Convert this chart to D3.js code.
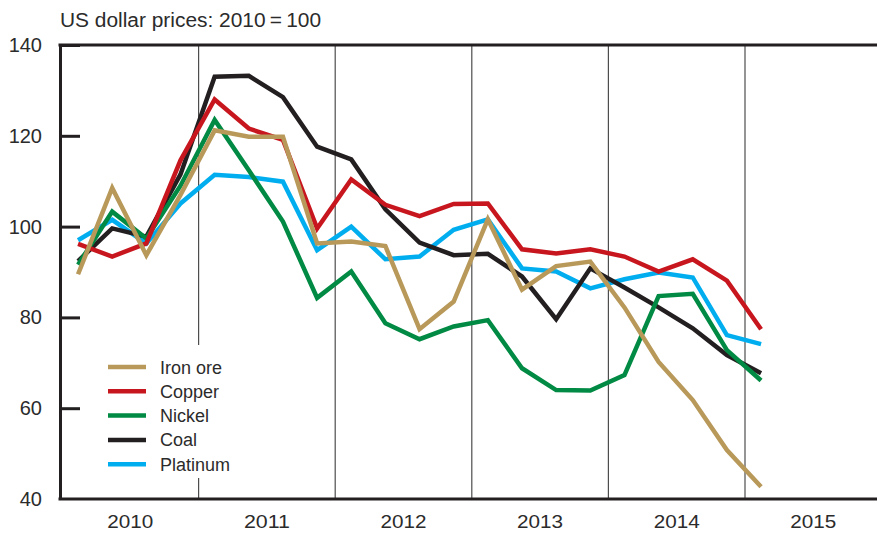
<!DOCTYPE html>
<html>
<head>
<meta charset="utf-8">
<script src="https://cdn.jsdelivr.net/npm/d3@7"></script>
<style>
  html, body { margin: 0; padding: 0; background: #fff; }
  svg { display: block; }
  text { font-family: "Liberation Sans", Arial, Helvetica, sans-serif; fill: #2b2b2b; }
</style>
</head>
<body>
<svg id="chart" width="877" height="533"></svg>
<script>
// ---- data (quarterly, 2010 Q1 .. 2015 Q1) ----
const years = [2010, 2011, 2012, 2013, 2014, 2015, 2016];
const yearLabels = ["2010", "2011", "2012", "2013", "2014", "2015"];
const quarters = [
  "2010Q1","2010Q2","2010Q3","2010Q4",
  "2011Q1","2011Q2","2011Q3","2011Q4",
  "2012Q1","2012Q2","2012Q3","2012Q4",
  "2013Q1","2013Q2","2013Q3","2013Q4",
  "2014Q1","2014Q2","2014Q3","2014Q4",
  "2015Q1"
];
const yTicks = [40, 60, 80, 100, 120, 140];
const seriesNames = ["Iron ore", "Copper", "Nickel", "Coal", "Platinum"];
const seriesColors = ["#b8995a", "#c8161e", "#008a43", "#231f20", "#00aeef"];

const ironOre = [89.5, 108.5, 93.7, 107.0, 121.2, 119.8, 119.8, 96.3, 96.7, 95.7, 77.4, 83.5, 101.6, 86.1, 91.3, 92.3, 82.2, 70.2, 61.8, 50.8, 42.7];
const copper  = [96.2, 93.4, 96.3, 114.6, 128.0, 121.6, 119.1, 99.6, 110.4, 104.8, 102.3, 105.0, 105.1, 95.0, 94.1, 95.0, 93.4, 90.1, 92.8, 88.1, 77.4];
const nickel  = [91.6, 103.3, 97.4, 109.0, 123.5, 112.4, 101.1, 84.3, 90.1, 78.7, 75.2, 78.0, 79.4, 68.8, 64.0, 63.9, 67.3, 84.7, 85.2, 72.8, 66.1];
const coal    = [92.4, 99.6, 97.8, 111.5, 133.0, 133.2, 128.5, 117.6, 114.8, 103.8, 96.5, 93.7, 94.0, 89.0, 79.6, 90.8, 86.6, 82.2, 77.6, 71.7, 67.7];
const platinum= [97.0, 101.5, 96.3, 105.1, 111.4, 110.9, 109.9, 94.8, 100.0, 92.8, 93.4, 99.3, 101.6, 90.8, 90.1, 86.4, 88.4, 89.9, 88.8, 76.1, 74.1];

const seriesValues = [ironOre, copper, nickel, coal, platinum];

// ---- layout ----
const svg = d3.select("#chart");
const W = 877, H = 533;
const plotLeft = 60, plotTop = 45, plotBottom = 499;

const x = d3.scaleLinear().domain([2010, 2016]).range([62, 881.6]);
const y = d3.scaleLinear().domain([40, 140]).range([plotBottom, plotTop]);

// quarter position: year + (q + 0.47)/4
const qx = (qs) => {
  const yr = +qs.slice(0, 4), q = +qs.slice(5) - 1;
  return x(yr + (q + 0.47) / 4);
};

// year dividers
svg.append("g").selectAll("line")
  .data(years.slice(1, 6))
  .join("line")
  .attr("x1", d => x(d)).attr("x2", d => x(d))
  .attr("y1", plotTop).attr("y2", plotBottom)
  .attr("stroke", "#4d4d4d").attr("stroke-width", 1.2);

// frame: top line, bottom axis
svg.append("line").attr("x1", plotLeft - 1.5).attr("x2", W).attr("y1", plotTop).attr("y2", plotTop)
  .attr("stroke", "#231f20").attr("stroke-width", 3);
svg.append("line").attr("x1", plotLeft - 1.5).attr("x2", W).attr("y1", plotBottom).attr("y2", plotBottom)
  .attr("stroke", "#231f20").attr("stroke-width", 3);

// y axis via d3.axisRight (ticks drawn inward)
const yAxis = d3.axisRight(y).tickValues(yTicks).tickSize(20).tickSizeOuter(0).tickFormat("");
const gy = svg.append("g").attr("transform", `translate(${plotLeft},0)`).call(yAxis);
gy.select(".domain").attr("stroke", "#231f20").attr("stroke-width", 3);
gy.selectAll(".tick line").attr("stroke", "#231f20").attr("stroke-width", 3)
  .attr("display", d => (d === 40 ? "none" : null));

// y labels
svg.append("g").selectAll("text")
  .data(yTicks)
  .join("text")
  .attr("x", 42).attr("y", d => y(d) + 7)
  .attr("text-anchor", "end")
  .attr("font-size", 20)
  .text(d => d);

// year labels
svg.append("g").selectAll("text")
  .data(yearLabels)
  .join("text")
  .attr("x", d => x(+d + 0.5)).attr("y", 528)
  .attr("text-anchor", "middle")
  .attr("font-size", 19)
  .attr("textLength", 46)
  .attr("lengthAdjust", "spacingAndGlyphs")
  .text(d => d);

// title
svg.append("text").attr("x", 60).attr("y", 27)
  .attr("font-size", 20)
  .attr("textLength", 261)
  .attr("lengthAdjust", "spacingAndGlyphs")
  .text("US dollar prices: 2010\u2009=\u2009100");

// series lines (draw bottom-to-top: platinum, coal, nickel, copper, iron ore)
const line = d3.line().x((d, i) => qx(quarters[i])).y(d => y(d));
const order = [4, 3, 2, 1, 0];
svg.append("g").selectAll("path")
  .data(order)
  .join("path")
  .attr("d", k => line(seriesValues[k]))
  .attr("fill", "none")
  .attr("stroke", k => seriesColors[k])
  .attr("stroke-width", 4.5)
  .attr("stroke-linejoin", "miter")
  .attr("stroke-miterlimit", 4);

// legend
const lg = svg.append("g");
lg.append("rect").attr("x", 100).attr("y", 345).attr("width", 140).attr("height", 133).attr("fill", "#fff");
const rows = lg.selectAll("g.row").data(seriesNames).join("g")
  .attr("class", "row")
  .attr("transform", (d, i) => `translate(0,${367 + i * 24.3})`);
rows.append("line").attr("x1", 108).attr("x2", 146).attr("y1", 0).attr("y2", 0)
  .attr("stroke", (d, i) => seriesColors[i]).attr("stroke-width", 4.5);
rows.append("text").attr("x", 160).attr("y", 6.5).attr("font-size", 18).text(d => d);
</script>
</body>
</html>
